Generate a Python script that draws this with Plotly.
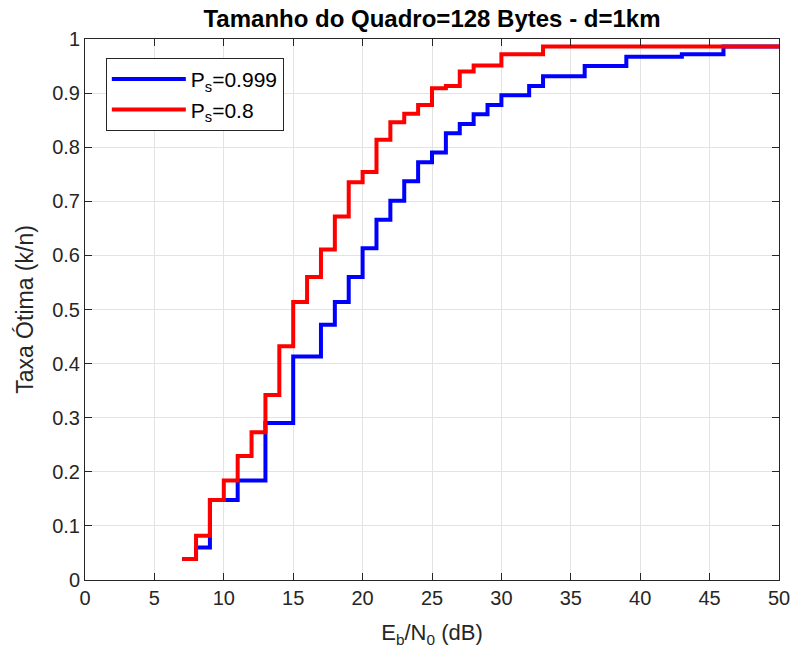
import plotly.graph_objects as go

# Eb/N0 (dB) change points and optimal rate (k/n) - stairs
x_ps999 = [7, 8, 9, 11, 13, 15, 17, 18, 19, 20, 21, 22, 23, 24, 25, 26, 27, 28, 29, 30, 32, 33, 36, 39, 43, 46, 50]
y_ps999 = [0.039, 0.060, 0.148, 0.184, 0.290, 0.413, 0.472, 0.514, 0.560, 0.613, 0.666, 0.701, 0.737, 0.772,
           0.790, 0.826, 0.843, 0.861, 0.878, 0.896, 0.913, 0.931, 0.950, 0.967, 0.972, 0.986, 0.986]

x_ps08 = [7, 8, 9, 10, 11, 12, 13, 14, 15, 16, 17, 18, 19, 20, 21, 22, 23, 24, 25, 26, 27, 28, 30, 33, 50]
y_ps08 = [0.039, 0.082, 0.148, 0.184, 0.229, 0.273, 0.342, 0.432, 0.514, 0.560, 0.611, 0.672, 0.735, 0.754,
          0.814, 0.846, 0.862, 0.878, 0.909, 0.913, 0.940, 0.951, 0.972, 0.986, 0.986]

names = ["P<sub>s</sub>=0.999", "P<sub>s</sub>=0.8"]
x_ticks = list(range(0, 51, 5))
y_ticks = [round(i * 0.1, 1) for i in range(11)]
y_tick_labels = ["0", "0.1", "0.2", "0.3", "0.4", "0.5", "0.6", "0.7", "0.8", "0.9", "1"]

FONT = "Liberation Sans, Arial, sans-serif"
AX = "#262626"

fig = go.Figure()
fig.add_trace(go.Scatter(x=x_ps999, y=y_ps999, mode="lines", line=dict(shape="hv", color="#0000ff", width=4),
                         name=names[0]))
fig.add_trace(go.Scatter(x=x_ps08, y=y_ps08, mode="lines", line=dict(shape="hv", color="#ff0000", width=4),
                         name=names[1]))

axis_common = dict(showline=True, linecolor=AX, linewidth=1, mirror="allticks", ticks="inside",
                   ticklen=7, tickcolor=AX, tickwidth=1, showgrid=True, gridcolor="#e3e3e3", gridwidth=1,
                   zeroline=False, automargin=False, tickfont=dict(family=FONT, size=20, color=AX))

fig.update_xaxes(range=[0, 50], tickvals=x_ticks, **axis_common,
                 title=dict(text="E<sub>b</sub>/N<sub>0</sub> (dB)", font=dict(family=FONT, size=22, color=AX), standoff=16))
fig.update_yaxes(range=[0, 1], tickvals=y_ticks, ticktext=y_tick_labels, **axis_common,
                 title=dict(text="Taxa Ótima (k/n)", font=dict(family=FONT, size=23, color=AX), standoff=12))

fig.update_layout(
    width=793, height=659,
    margin=dict(l=85, r=14, t=39, b=79),
    paper_bgcolor="white", plot_bgcolor="white",
    title=dict(text="<b>Tamanho do Quadro=128 Bytes - d=1km</b>", x=0.5, xref="paper", xanchor="center",
               y=1 - 19 / 659, yref="container", yanchor="middle",
               font=dict(family=FONT, size=24, color="black")),
    legend=dict(x=0.03, y=0.965, xanchor="left", yanchor="top", bgcolor="white", bordercolor=AX, borderwidth=1,
                font=dict(family=FONT, size=21, color="black"), itemwidth=74, tracegroupgap=0),
    showlegend=True,
)

fig.write_html("out.html")
